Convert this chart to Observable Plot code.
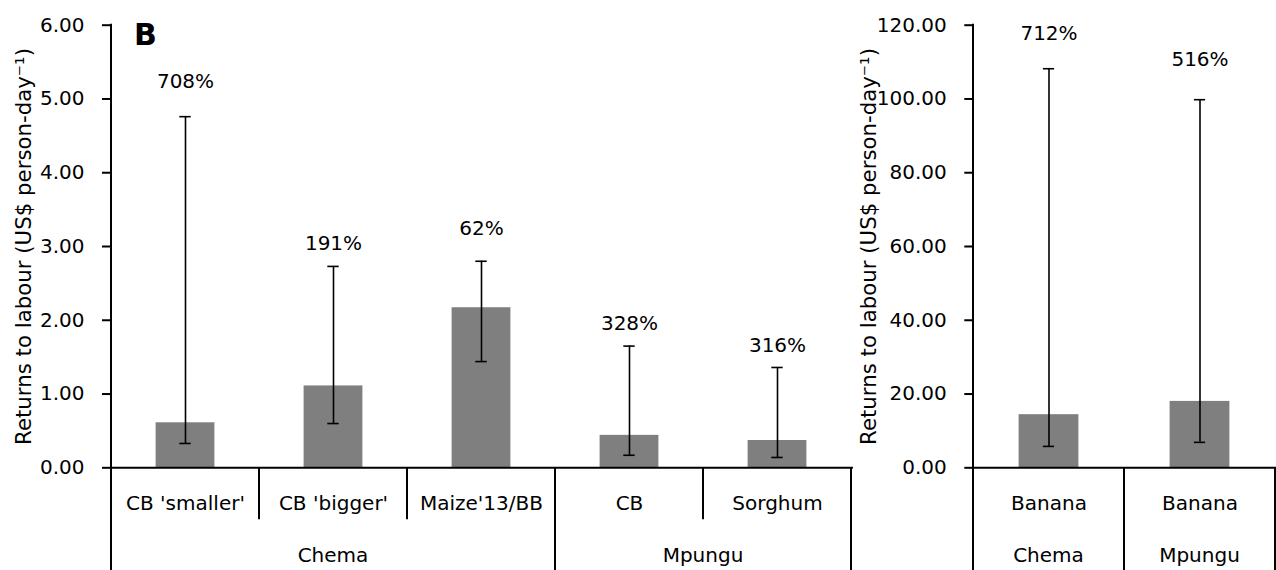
<!DOCTYPE html>
<html>
<head>
<meta charset="utf-8">
<script src="https://cdn.jsdelivr.net/npm/d3@7"></script>
<script src="https://cdn.jsdelivr.net/npm/@observablehq/plot@0.6"></script>
<style>
  html, body { margin: 0; padding: 0; background: #fff; }
  #chart { position: relative; width: 1276px; height: 570px; font-family: "DejaVu Sans", sans-serif; }
  #chart svg { position: absolute; top: 0; overflow: visible; background: transparent; max-width: none; }
  #chart [aria-label="y-axis tick"] { stroke-width: 2; }
</style>
</head>
<body>
<div id="chart"></div>
<script>
// Returns to labour (US$ per person-day) by crop and site.
// Whiskers give the range; the percentages are coefficients of variation.

// Annual crops (left panel)
const cropsLeft   = ["CB 'smaller'", "CB 'bigger'", "Maize'13/BB", "CB", "Sorghum"];
const sitesLeft   = ["Chema", "Chema", "Chema", "Mpungu", "Mpungu"];
const meanLeft    = [0.61, 1.11, 2.17, 0.44, 0.37];
const lowLeft     = [0.33, 0.60, 1.44, 0.17, 0.14];
const highLeft    = [4.76, 2.73, 2.80, 1.65, 1.36];
const cvLeft      = ["708%", "191%", "62%", "328%", "316%"];
const cvAtLeft    = [5.23, 3.04, 3.24, 1.96, 1.65];
const ticksLeft   = [0, 1, 2, 3, 4, 5, 6];

// Banana (right panel)
const cropsRight  = ["Banana", "Banana"];
const sitesRight  = ["Chema", "Mpungu"];
const meanRight   = [14.4, 18.0];
const lowRight    = [5.8, 6.9];
const highRight   = [108.2, 99.8];
const cvRight     = ["712%", "516%"];
const cvAtRight   = [117.6, 110.6];
const ticksRight  = [0, 20, 40, 60, 80, 100, 120];

const yTitle = "Returns to labour (US$ person-day\u207B\u00B9)";
const panelLetter = "B";

const FONT = "DejaVu Sans";
const H = 570;

function panel({crops, sites, mean, low, high, cv, cvAt, ticks, left, width,
                marginLeft, marginRight, titleDx, barInset, capInset, letter}) {
  const rows = crops.map((c, i) => ({
    key: sites[i] + "|" + c, crop: c, site: sites[i],
    mean: mean[i], low: low[i], high: high[i], cv: cv[i], cvAt: cvAt[i]
  }));
  const keys = rows.map(d => d.key);
  const cropOf = new Map(rows.map(d => [d.key, d.crop]));
  const yMax = ticks[ticks.length - 1];

  const plot = Plot.plot({
    width, height: H,
    marginTop: 24.7, marginBottom: 102.7, marginLeft, marginRight,
    style: {fontFamily: FONT, fontSize: "20px", color: "#000", background: "transparent", overflow: "visible"},
    x: {domain: keys, padding: 0, tickSize: 0, tickPadding: 28, tickFormat: k => cropOf.get(k), label: null},
    y: {domain: [ticks[0], yMax], ticks, tickFormat: d3.format(".2f"), tickSize: 8, tickPadding: 18, label: null},
    marks: [
      Plot.barY(rows, {x: "key", y: "mean", fill: "#7f7f7f", insetLeft: barInset, insetRight: barInset}),
      Plot.ruleX(rows, {x: "key", y1: "low", y2: "high", stroke: "#000", strokeWidth: 1.6}),
      Plot.tickY(rows, {x: "key", y: "low", stroke: "#000", strokeWidth: 1.6, insetLeft: capInset, insetRight: capInset}),
      Plot.tickY(rows, {x: "key", y: "high", stroke: "#000", strokeWidth: 1.6, insetLeft: capInset, insetRight: capInset}),
      Plot.text(rows, {x: "key", y: "cvAt", text: "cv", fontSize: 20, fill: "#000"}),
      Plot.ruleY([0], {stroke: "#000", strokeWidth: 2}),
      Plot.text([yTitle], {text: d => d, frameAnchor: "left", textAnchor: "middle", rotate: -90,
                           dx: titleDx, fontSize: 21.3, fill: "#000"}),
      letter ? Plot.text([letter], {text: d => d, frameAnchor: "top-left", textAnchor: "start", lineAnchor: "top",
                                    dx: 23.5, dy: -2, fontSize: 30, fontWeight: "bold", fill: "#000"}) : null
    ]
  });
  plot.style.left = left + "px";

  // Two-level category axis: crop cells, then site groups, drawn from the plot's scales.
  const sx = plot.scale("x"), sy = plot.scale("y");
  const bw = sx.bandwidth;
  const y0 = sy.apply(0), yTop = sy.apply(yMax);
  const svg = d3.select(plot);
  const g = svg.append("g").attr("stroke", "#000").attr("stroke-width", 2).attr("fill", "none");
  const x0 = sx.apply(keys[0]);
  g.append("line").attr("x1", x0).attr("x2", x0).attr("y1", yTop - 1).attr("y2", H);
  rows.forEach((d, i) => {
    if (i === 0) return;
    const x = sx.apply(d.key);
    const groupEdge = d.site !== rows[i - 1].site;
    g.append("line").attr("x1", x).attr("x2", x).attr("y1", y0).attr("y2", groupEdge ? H : y0 + 52);
  });
  const xEnd = sx.apply(keys[keys.length - 1]) + bw;
  g.append("line").attr("x1", xEnd).attr("x2", xEnd).attr("y1", y0).attr("y2", H);

  // site group labels centred under their crops
  const groups = d3.groups(rows, d => d.site);
  const gt = svg.append("g").attr("font-family", FONT).attr("font-size", 20).attr("fill", "#000").attr("text-anchor", "middle");
  for (const [site, members] of groups) {
    const a = sx.apply(members[0].key);
    const b = sx.apply(members[members.length - 1].key) + bw;
    gt.append("text").attr("x", (a + b) / 2).attr("y", y0 + 94.3).text(site);
  }
  return plot;
}

const chart = document.getElementById("chart");

chart.append(panel({
  crops: cropsLeft, sites: sitesLeft, mean: meanLeft, low: lowLeft, high: highLeft,
  cv: cvLeft, cvAt: cvAtLeft, ticks: ticksLeft,
  left: 0, width: 860, marginLeft: 110, marginRight: 7.1, titleDx: -86.5,
  barInset: 44.6, capInset: 68.3, letter: panelLetter
}));

chart.append(panel({
  crops: cropsRight, sites: sitesRight, mean: meanRight, low: lowRight, high: highRight,
  cv: cvRight, cvAt: cvAtRight, ticks: ticksRight,
  left: 846, width: 430, marginLeft: 126.3, marginRight: 0, titleDx: -103.3,
  barInset: 45.6, capInset: 69.9, letter: null
}));
</script>
</body>
</html>
